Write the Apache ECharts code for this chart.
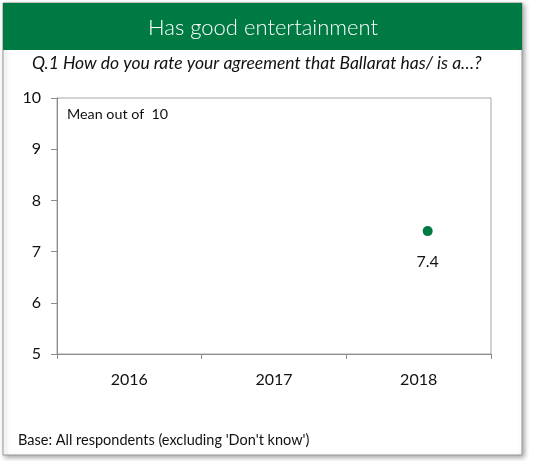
<!DOCTYPE html>
<html>
<head>
<meta charset="utf-8">
<script src="https://cdn.jsdelivr.net/npm/echarts@6/dist/echarts.min.js"></script>
<style>
  html, body { margin: 0; padding: 0; background: #fff; }
  #chart { width: 535px; height: 461px; }
</style>
</head>
<body>
<div id="chart"></div>
<script>
// Survey years and mean ratings (out of 10)
const years = ['2016', '2017', '2018'];
const meanScores = [null, null, 7.4];
const yTicks = [5, 6, 7, 8, 9, 10];

const titleText = 'Has good entertainment';
const questionText = 'Q.1 How do you rate your agreement that Ballarat has/ is a\u2026?';
const unitNote = 'Mean out of  10';
const baseNote = "Base: All respondents (excluding 'Don't know')";

const FONT = 'Lato, "Noto Sans", sans-serif';
const GREEN = '#007A43';

const chart = echarts.init(document.getElementById('chart'), null, { renderer: 'canvas' });

chart.setOption({
  animation: false,
  backgroundColor: '#fff',
  textStyle: { fontFamily: FONT },
  graphic: [
    {
      type: 'rect', z: -10,
      shape: { x: 3, y: 3, width: 519, height: 452 },
      style: { fill: '#fff', stroke: '#9a9a9a', lineWidth: 1,
               shadowBlur: 5, shadowOffsetX: 2, shadowOffsetY: 2, shadowColor: 'rgba(0,0,0,0.35)' }
    },
    {
      type: 'rect', z: -5,
      shape: { x: 3, y: 3, width: 519, height: 47 },
      style: { fill: GREEN }
    },
    {
      type: 'text', x: 263, y: 28,
      style: { text: titleText, fill: '#fff', font: '300 22px ' + FONT,
               align: 'center', verticalAlign: 'middle' }
    },
    {
      type: 'text', x: 32, y: 63,
      style: { text: questionText, fill: '#111', font: 'italic 17.5px ' + FONT,
               align: 'left', verticalAlign: 'middle' }
    },
    {
      type: 'text', x: 67, y: 114,
      style: { text: unitNote, fill: '#111', font: '14.3px ' + FONT, verticalAlign: 'middle' }
    },
    {
      type: 'text', x: 18, y: 440,
      style: { text: baseNote, fill: '#111', font: '14.5px ' + FONT, verticalAlign: 'middle' }
    }
  ],
  grid: {
    left: 57, right: 44, top: 98, bottom: 107,
    show: true, borderColor: '#a6a6a6', borderWidth: 1, backgroundColor: 'transparent'
  },
  xAxis: {
    type: 'category',
    data: years,
    boundaryGap: true,
    axisLine: { lineStyle: { color: '#8c8c8c' } },
    axisTick: { show: true, length: 5, lineStyle: { color: '#8c8c8c' } },
    axisLabel: { color: '#111', fontSize: 16, margin: 18, fontFamily: FONT },
    splitLine: { show: false }
  },
  yAxis: {
    type: 'value',
    min: yTicks[0], max: yTicks[yTicks.length - 1], interval: 1,
    axisLine: { show: true, lineStyle: { color: '#8c8c8c' } },
    axisTick: { show: true, length: 6, lineStyle: { color: '#8c8c8c' } },
    axisLabel: { color: '#111', fontSize: 16, margin: 16, fontFamily: FONT },
    splitLine: { show: false }
  },
  series: [{
    type: 'line',
    data: meanScores,
    showSymbol: true,
    symbol: 'circle',
    symbolSize: 10,
    symbolOffset: [9, 0],
    itemStyle: { color: GREEN },
    lineStyle: { width: 0 },
    label: {
      show: true, position: 'bottom', distance: 18,
      color: '#111', fontSize: 16, fontFamily: FONT,
      formatter: p => p.value.toFixed(1)
    }
  }]
});
</script>
</body>
</html>
